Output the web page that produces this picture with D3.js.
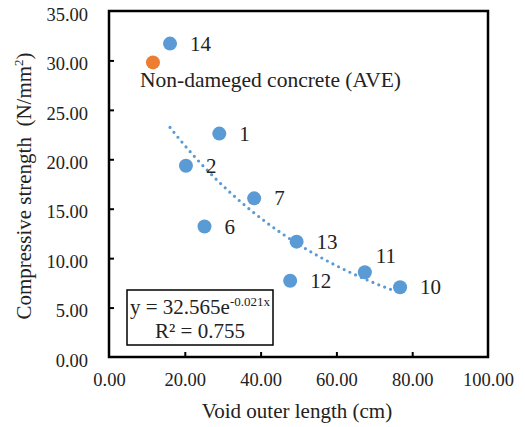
<!DOCTYPE html>
<html lang="en">
<head>
    <meta charset="UTF-8">
    <title>Void outer length vs Compressive strength</title>
    <script src="https://d3js.org/d3.v7.min.js"></script>
    <style>
        body { margin: 0; background: #fff; }
        svg text { font-family: "Liberation Serif", "Times New Roman", serif; fill: #222; }
        .tick text { font-size: 18.5px; }
        .axis-label { font-size: 21px; }
        .pt-label { font-size: 21px; }
        .ref-label { font-size: 21.5px; }
    </style>
</head>
<body>
    <div id="chart"></div>

    <script>
        // specimen numbers, void outer length (cm), compressive strength (N/mm2)
        const specimens = ["14", "1", "2", "7", "6", "13", "11", "12", "10"];
        const voidLength = [16.1, 29.1, 20.3, 38.3, 25.2, 49.5, 67.5, 47.8, 76.8];
        const strength = [31.7, 22.6, 19.35, 16.05, 13.2, 11.67, 8.57, 7.72, 7.05];

        // reference (non-damaged) average
        const refLabel = ["Non-dameged concrete (AVE)"];
        const refLength = [11.6];
        const refStrength = [29.8];

        // exponential trendline coefficients as printed on the chart
        const trendA = 32.565;
        const trendB = -0.021;
        const trendR2 = 0.755;

        const xTicks = [0, 20, 40, 60, 80, 100];
        const yTicks = [0, 5, 10, 15, 20, 25, 30, 35];

        const width = 525, height = 427;
        const plotL = 109, plotR = 488, plotT = 11, plotB = 357;

        const svg = d3.select("#chart").append("svg")
            .attr("width", width)
            .attr("height", height);

        const x = d3.scaleLinear().domain([0, 100]).range([plotL, plotR]);
        const y = d3.scaleLinear().domain([0, 35]).range([plotB, plotT]);

        // axes, ticks pointing inward
        const xAxis = svg.append("g")
            .attr("transform", `translate(0,${plotB})`)
            .call(d3.axisBottom(x).tickValues(xTicks).tickFormat(d3.format(".2f"))
                .tickSizeInner(-5).tickSizeOuter(0).tickPadding(16));
        const yAxis = svg.append("g")
            .attr("transform", `translate(${plotL},0)`)
            .call(d3.axisLeft(y).tickValues(yTicks).tickFormat(d3.format(".2f"))
                .tickSizeInner(-5).tickSizeOuter(0).tickPadding(21));
        yAxis.selectAll(".tick text").attr("dy", "0.5em");
        [xAxis, yAxis].forEach(g => {
            g.attr("font-family", null).attr("font-size", null);
            g.select(".domain").remove();
            g.selectAll(".tick line").attr("stroke", "#000").attr("stroke-width", 2);
        });
        xAxis.selectAll(".tick line").filter(d => d === 0 || d === 100).remove();
        yAxis.selectAll(".tick line").filter(d => d === 0 || d === 35).remove();

        // plot frame
        svg.append("rect")
            .attr("x", plotL).attr("y", plotT)
            .attr("width", plotR - plotL).attr("height", plotB - plotT)
            .attr("fill", "none")
            .attr("stroke", "#000")
            .attr("stroke-width", 2.5);

        // axis titles
        svg.append("text")
            .attr("class", "axis-label")
            .attr("x", 297)
            .attr("y", 418)
            .attr("text-anchor", "middle")
            .text("Void outer length (cm)");

        const yTitle = svg.append("text")
            .attr("class", "axis-label")
            .attr("transform", "translate(31,186) rotate(-90)")
            .attr("text-anchor", "middle")
            .attr("xml:space", "preserve");
        yTitle.append("tspan").text("Compressive strength  (N/mm");
        yTitle.append("tspan").attr("dy", -8).attr("font-size", "13px").text("2");
        yTitle.append("tspan").attr("dy", 8).text(")");

        // trendline over the range of the damaged specimens
        const [xMin, xMax] = d3.extent(voidLength);
        const trendPts = d3.range(xMin, xMax - 1, 0.5).map(v => [v, trendA * Math.exp(trendB * v)]);
        svg.append("path")
            .datum(trendPts)
            .attr("d", d3.line().x(d => x(d[0])).y(d => y(d[1])))
            .attr("fill", "none")
            .attr("stroke", "#5B9BD5")
            .attr("stroke-width", 3.2)
            .attr("stroke-linecap", "round")
            .attr("stroke-dasharray", "0 6.3");

        // specimen points
        const pts = specimens.map((s, i) => ({ s, vx: voidLength[i], vy: strength[i] }));
        svg.selectAll("circle.spec")
            .data(pts)
            .enter().append("circle")
            .attr("class", "spec")
            .attr("cx", d => x(d.vx))
            .attr("cy", d => y(d.vy))
            .attr("r", 7)
            .attr("fill", "#5B9BD5");

        svg.selectAll("text.spec-label")
            .data(pts)
            .enter().append("text")
            .attr("class", "pt-label spec-label")
            .attr("x", d => x(d.vx) + (d.s === "11" ? 11 : 20))
            .attr("y", d => y(d.vy) + (d.s === "11" ? -9 : 7))
            .text(d => d.s);

        // non-damaged reference
        svg.selectAll("circle.ref")
            .data(refLength)
            .enter().append("circle")
            .attr("class", "ref")
            .attr("cx", d => x(d))
            .attr("cy", (d, i) => y(refStrength[i]))
            .attr("r", 7)
            .attr("fill", "#ED7D31");
        svg.append("text")
            .attr("class", "ref-label")
            .attr("x", x(refLength[0]) - 13)
            .attr("y", y(refStrength[0]) + 25)
            .text(refLabel[0]);

        // equation box
        svg.append("rect")
            .attr("x", 127).attr("y", 290)
            .attr("width", 146).attr("height", 55)
            .attr("fill", "#fff")
            .attr("stroke", "#000")
            .attr("stroke-width", 1.5);
        const eq = svg.append("text")
            .attr("class", "pt-label")
            .attr("x", 200).attr("y", 314)
            .attr("text-anchor", "middle")
            .attr("font-size", "20px");
        eq.append("tspan").text(`y = ${trendA}e`);
        eq.append("tspan").attr("dy", -8).attr("font-size", "13px").text(`-${Math.abs(trendB)}x`);
        svg.append("text")
            .attr("class", "pt-label")
            .attr("x", 200).attr("y", 338)
            .attr("text-anchor", "middle")
            .attr("font-size", "20px")
            .text(`R² = ${trendR2}`);
    </script>
</body>
</html>
